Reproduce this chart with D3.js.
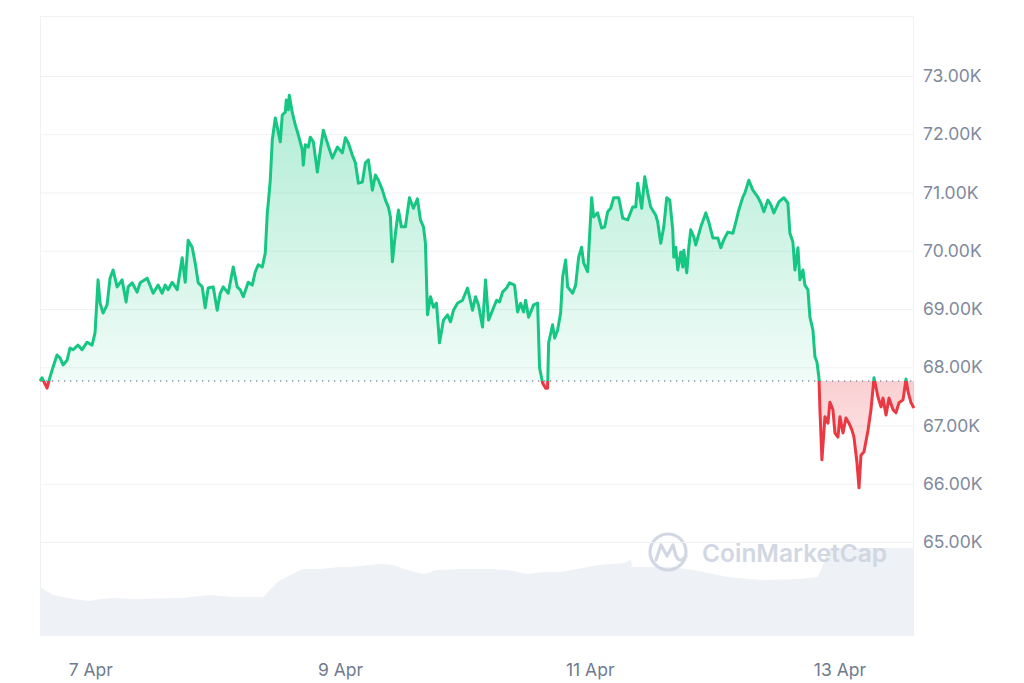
<!DOCTYPE html>
<html>
<head>
<meta charset="utf-8">
<script src="https://cdn.jsdelivr.net/npm/d3@7"></script>
<style>
  html, body { margin: 0; padding: 0; background: #ffffff; }
  svg { display: block; }
</style>
</head>
<body>
<svg id="chart" width="1024" height="683"></svg>
<script>
// ---------- DATA ----------
// hours after the chart start (6 Apr 14:20), price in USD
const priceHours = [
  0, 0.38, 1.35, 1.92, 2.50, 3.27, 3.85, 4.43, 5.20, 5.77, 6.35, 7.31, 8.08, 9.05, 10.01, 10.58,
  11.16, 11.55, 12.12, 12.89, 13.47, 14.05, 14.82, 15.78, 16.55, 16.94, 17.71, 18.67, 19.25, 20.59,
  21.75, 22.71, 23.48, 24.06, 24.63, 25.40, 26.37, 27.33, 27.91, 28.48, 29.25, 29.83, 30.41, 31.18,
  31.75, 32.33, 33.29, 34.06, 34.64, 35.22, 36.18, 37.14, 37.91, 38.49, 39.07, 40.03, 40.80, 41.38,
  41.95, 42.72, 43.30, 43.69, 43.88, 44.26, 44.65, 45.23, 45.61, 46.19, 46.57, 47.15, 47.34, 47.73,
  47.92, 48.50, 49.07, 49.65, 50.42, 50.61, 51.00, 51.58, 51.96, 52.54, 53.31, 53.89, 54.46, 55.23,
  56.20, 57.16, 58.12, 58.70, 59.27, 60.04, 60.62, 61.20, 61.97, 62.55, 63.12, 63.89, 64.47, 65.05,
  65.82, 66.40, 66.97, 67.36, 67.74, 68.32, 68.90, 69.47, 70.24, 71.01, 71.78, 72.55, 73.13, 73.71,
  74.09, 74.48, 75.06, 75.63, 76.21, 76.79, 77.56, 78.33, 78.90, 79.48, 80.25, 81.21, 82.18, 83.14,
  83.72, 84.29, 85.06, 85.64, 86.22, 86.99, 87.76, 88.33, 88.91, 89.68, 90.26, 91.22, 91.80, 92.38,
  92.95, 93.34, 93.92, 94.88, 95.65, 96.03, 96.61, 97.19, 97.57, 97.77, 98.53, 98.92, 99.50, 100.07,
  100.46, 101.04, 101.42, 102.38, 102.96, 103.54, 104.11, 104.50, 105.27, 106.04, 106.42, 107.19,
  107.96, 108.54, 109.12, 109.70, 110.27, 111.24, 112.01, 112.97, 113.93, 114.51, 114.89, 115.66,
  116.24, 116.82, 117.39, 118.36, 118.74, 119.32, 119.90, 120.47, 121.05, 121.63, 121.82, 122.21,
  122.59, 123.17, 123.55, 123.75, 124.32, 124.71, 125.09, 125.67, 126.05, 127.02, 127.98, 128.56,
  129.33, 130.29, 130.87, 131.44, 132.21, 133.18, 133.75, 134.33, 135.10, 135.48, 136.25, 137.02,
  137.99, 138.56, 139.14, 139.91, 140.49, 141.06, 142.03, 142.99, 143.76, 144.15, 144.72, 145.11,
  145.69, 146.07, 146.65, 147.03, 147.61, 148.00, 148.57, 148.96, 149.34, 149.73, 149.92, 150.30,
  150.88, 151.46, 151.84, 152.42, 152.81, 153.38, 153.77, 154.35, 154.92, 155.50, 156.08, 156.46,
  157.04, 157.43, 157.81, 158.39, 159.16, 159.73, 160.31, 161.08, 161.66, 162.04, 162.62, 163.20,
  163.97, 164.54, 165.12, 165.89, 166.47, 166.85, 167.43, 168.0
];
const priceValues = [
  67764, 67820, 67640, 67830, 68000, 68210, 68160, 68040, 68120, 68330, 68300, 68380, 68300, 68430, 68380, 68590,
  69500, 69100, 68930, 69070, 69530, 69670, 69380, 69500, 69120, 69380, 69450, 69290, 69450, 69530,
  69270, 69410, 69270, 69410, 69330, 69460, 69330, 69880, 69460, 70180, 70060, 69790, 69450, 69380,
  69020, 69360, 69380, 68980, 69270, 69380, 69270, 69720, 69380, 69330, 69210, 69460, 69410, 69640,
  69760, 69720, 69960, 70650, 70820, 71210, 71900, 72280, 72120, 71870, 72330, 72380, 72590, 72420,
  72670, 72370, 72160, 71990, 71730, 71470, 71820, 71780, 71950, 71870, 71350, 71730, 72070, 71850,
  71590, 71780, 71680, 71940, 71850, 71640, 71510, 71160, 71180, 71510, 71560, 71040, 71300, 71210,
  71040, 70870, 70750, 70580, 69810, 70300, 70700, 70410, 70410, 70910, 70730, 70890, 70530, 70410,
  70130, 68900, 69210, 69030, 69100, 68420, 68810, 68900, 68780, 68980, 69100, 69150, 69360, 68980,
  69210, 69070, 68690, 69500, 68810, 68980, 69150, 69120, 69290, 69360, 69450, 69410, 68950, 69100,
  68950, 69150, 68860, 69070, 69100, 67990, 67730, 67640, 67640, 68420, 68730, 68500, 68640, 68930,
  69550, 69840, 69380, 69270, 69410, 69890, 70060, 69790, 69640, 70910, 70580, 70650,
  70390, 70410, 70670, 70730, 70910, 70910, 70560, 70530, 70750, 70750, 71160, 70730,
  71270, 70990, 70750, 70610, 70490, 70130, 70410, 70910, 70870, 70360, 69890, 70060,
  69670, 69980, 69720, 70010, 69620, 70060, 70360, 70240, 70100, 70410, 70650, 70490,
  70220, 70220, 70050, 70190, 70320, 70300, 70490, 70700, 70920, 70990, 71210, 71040,
  70920, 70820, 70670, 70870, 70790, 70650, 70840, 70910, 70820, 70300, 70150, 69670,
  70050, 69500, 69670, 69410, 69330, 68860, 68640, 68180, 68090, 67820, 67270, 66410,
  67150, 67040, 67400, 67270, 66870, 66800, 67150, 66870, 67130, 67040, 66920, 66800,
  66360, 65930, 66490, 66550, 66920, 67270, 67820, 67490, 67320, 67470, 67180, 67470,
  67270, 67220, 67390, 67440, 67800, 67580, 67390, 67300
];
// 24h volume (billions USD)
const volumeHours = [
  0, 2.50, 5.20, 7.70, 9.62, 11.55, 14.05, 17.90, 27.52, 28.87, 32.72, 37.14, 42.92, 45.61, 48.11,
  50.61, 53.89, 57.74, 59.66, 65.43, 67.94, 69.86, 73.71, 76.40, 81.41, 86.60, 89.87, 93.72, 96.80,
  100.07, 104.50, 107.19, 112.20, 113.55, 113.93, 121.24, 125.67, 132.21, 138.56, 146.26, 149.53,
  150.50, 151.46, 168.0
];
const volumeValues = [
  24, 20, 18.5, 17.5, 17, 18, 18.5, 18, 18.5, 19, 20, 19, 19, 26.5, 30,
  33, 33, 34, 34, 35.5, 35, 33, 30.5, 32.5, 33, 33, 32.5, 30.5, 31.5,
  31.5, 33.5, 35, 36, 37.5, 34, 34, 32.5, 29, 27.5, 28, 29,
  35, 43.5, 43.5
];
const yTicks = [65000, 66000, 67000, 68000, 69000, 70000, 71000, 72000, 73000];
const xTickDates = ["2024-04-07", "2024-04-09", "2024-04-11", "2024-04-13"];
const watermarkText = "CoinMarketCap";

// ---------- SETUP ----------
const svg = d3.select("#chart");
const L = 40, R = 914, T = 16, B = 635;
const start = new Date(2024, 3, 6, 14, 20);
const toDate = h => new Date(start.getTime() + h * 3600e3);
const end = toDate(168);

const x = d3.scaleTime().domain([start, end]).range([L, R]);
const y = d3.scaleLinear().domain([65000, 73000]).range([542, 76]);
const yv = d3.scaleLinear().domain([0, 45]).range([B, 545]);

const price = priceHours.map((h, i) => ({ t: toDate(h), v: priceValues[i] }));
const volume = volumeHours.map((h, i) => ({ t: toDate(h), v: volumeValues[i] }));
const baseVal = priceValues[0];
const baseY = y(baseVal);

const green = "#16c784", red = "#ea3943";

const defs = svg.append("defs");
const gG = defs.append("linearGradient").attr("id", "gGreen")
  .attr("gradientUnits", "userSpaceOnUse").attr("x1", 0).attr("x2", 0)
  .attr("y1", y(72700)).attr("y2", baseY);
gG.append("stop").attr("offset", 0).attr("stop-color", green).attr("stop-opacity", 0.34);
gG.append("stop").attr("offset", 1).attr("stop-color", green).attr("stop-opacity", 0.06);
const gR = defs.append("linearGradient").attr("id", "gRed")
  .attr("gradientUnits", "userSpaceOnUse").attr("x1", 0).attr("x2", 0)
  .attr("y1", baseY).attr("y2", y(65900));
gR.append("stop").attr("offset", 0).attr("stop-color", red).attr("stop-opacity", 0.24);
gR.append("stop").attr("offset", 1).attr("stop-color", red).attr("stop-opacity", 0.08);

defs.append("clipPath").attr("id", "clipAbove").append("rect")
  .attr("x", 0).attr("y", 0).attr("width", 1024).attr("height", baseY);
defs.append("clipPath").attr("id", "clipBelow").append("rect")
  .attr("x", 0).attr("y", baseY).attr("width", 1024).attr("height", 683 - baseY);

// Plot frame
svg.append("rect").attr("x", L + 0.5).attr("y", T + 0.5)
  .attr("width", R - L - 1).attr("height", B - T)
  .attr("fill", "none").attr("stroke", "#eff2f5").attr("stroke-width", 1);

// Volume area
svg.append("path").datum(volume)
  .attr("fill", "#eef1f5")
  .attr("d", d3.area().x(d => x(d.t)).y0(B).y1(d => yv(d.v)).curve(d3.curveLinear));

// Watermark
const wm = svg.append("g").attr("opacity", 0.9);
wm.append("circle").attr("cx", 668).attr("cy", 552).attr("r", 18)
  .attr("fill", "none").attr("stroke", "#cdd4e0").attr("stroke-width", 3.2);
wm.append("path").attr("d", "M656,560 L661,545 L667,556 L673,545 L676,556 Q680,564 686,556")
  .attr("fill", "none").attr("stroke", "#cdd4e0").attr("stroke-width", 3.2)
  .attr("stroke-linejoin", "round").attr("stroke-linecap", "round");
wm.append("text").attr("x", 702).attr("y", 562)
  .attr("font-family", "Inter, 'Open Sans', sans-serif").attr("font-weight", 600)
  .attr("font-size", 24.5).attr("fill", "#cdd4e0").text(watermarkText);

// Gridlines via axis
const grid = svg.append("g").attr("transform", `translate(${L},0)`)
  .call(d3.axisRight(y).tickValues(yTicks).tickSize(R - L).tickFormat(""));
grid.select(".domain").remove();
grid.selectAll("line").attr("stroke", "#eff2f5").attr("stroke-width", 1.2);

// Y axis labels
const yAxis = svg.append("g").attr("transform", `translate(${R},0)`)
  .call(d3.axisRight(y).tickValues(yTicks).tickSize(0).tickPadding(9)
    .tickFormat(d => (d / 1000).toFixed(2) + "K"));
yAxis.select(".domain").remove();
yAxis.selectAll("text").attr("font-family", "Inter, sans-serif").attr("font-size", 17.5)
  .attr("fill", "#808a9d");

// X axis labels
const xAxis = svg.append("g").attr("transform", `translate(0,${B})`)
  .call(d3.axisBottom(x).tickValues(xTickDates.map(s => d3.timeParse("%Y-%m-%d")(s)))
    .tickSize(0).tickPadding(29).tickFormat(d3.timeFormat("%-d %b")));
xAxis.select(".domain").remove();
xAxis.selectAll("text").attr("font-family", "Inter, sans-serif").attr("font-size", 17.5)
  .attr("fill", "#6f7b90");

// Price areas
const areaGen = d3.area().x(d => x(d.t)).y0(baseY).y1(d => y(d.v));
svg.append("path").datum(price).attr("clip-path", "url(#clipAbove)")
  .attr("fill", "url(#gGreen)").attr("d", areaGen);
svg.append("path").datum(price).attr("clip-path", "url(#clipBelow)")
  .attr("fill", "url(#gRed)").attr("d", areaGen);

// Baseline dotted
svg.append("line").attr("x1", L).attr("x2", R).attr("y1", baseY).attr("y2", baseY)
  .attr("stroke", "#8a93a6").attr("stroke-width", 1.3).attr("stroke-dasharray", "1.3,4.7");

// Price lines
const lineGen = d3.line().x(d => x(d.t)).y(d => y(d.v));
svg.append("path").datum(price).attr("clip-path", "url(#clipAbove)")
  .attr("fill", "none").attr("stroke", green).attr("stroke-width", 3)
  .attr("stroke-linejoin", "round").attr("d", lineGen);
svg.append("path").datum(price).attr("clip-path", "url(#clipBelow)")
  .attr("fill", "none").attr("stroke", red).attr("stroke-width", 3)
  .attr("stroke-linejoin", "round").attr("d", lineGen);
</script>
</body>
</html>
